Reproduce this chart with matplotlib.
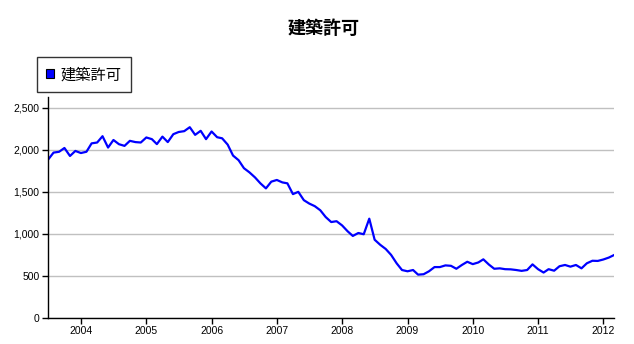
import matplotlib.pyplot as plt
import matplotlib.patches as mpatches
from matplotlib.ticker import FuncFormatter
import numpy as np
import pandas as pd

plt.rcParams['font.family'] = ['Liberation Sans', 'Noto Sans CJK JP', 'DejaVu Sans']

# 月次データ 2003-07 .. 2012-03
months = pd.date_range("2003-07-01", "2012-03-01", freq="MS")
values = [
    1880, 1965, 1975, 2020, 1925, 1985,            # 2003 Jul-Dec
    1960, 1975, 2075, 2085, 2160, 2025,            # 2004 Jan-Jun
    2115, 2065, 2045, 2105, 2090, 2085,            # 2004 Jul-Dec
    2145, 2125, 2066, 2155, 2090, 2184,            # 2005 Jan-Jun
    2210, 2220, 2267, 2176, 2224, 2125,            # 2005 Jul-Dec
    2216, 2148, 2135, 2060, 1930, 1875,            # 2006 Jan-Jun
    1780, 1730, 1670, 1600, 1540, 1620,            # 2006 Jul-Dec
    1640, 1611, 1600, 1472, 1499, 1400,            # 2007 Jan-Jun
    1360, 1329, 1280, 1200, 1140, 1150,            # 2007 Jul-Dec
    1100, 1030, 975, 1010, 995, 1180,              # 2008 Jan-Jun
    930, 870, 820, 750, 650, 570,                  # 2008 Jul-Dec
    555, 570, 515, 520, 555, 605,                  # 2009 Jan-Jun
    605, 625, 620, 585, 630, 668,                  # 2009 Jul-Dec
    640, 660, 697, 635, 585, 590,                  # 2010 Jan-Jun
    580, 578, 570, 560, 570, 637,                  # 2010 Jul-Dec
    580, 540, 580, 562, 615, 630,                  # 2011 Jan-Jun
    610, 630, 590, 650, 680, 678,                  # 2011 Jul-Dec
    695, 718, 748,                                 # 2012 Jan-Mar
]
years = list(range(2004, 2013))
series_name = "建築許可"

fig = plt.figure(figsize=(6.34, 3.44), dpi=100)
ax = fig.add_axes([0.0757, 0.0756, 0.8928, 0.641])

ax.plot(months, values, color="#0000ff", lw=1.6, label=series_name)

ax.set_xlim(months[0], months[-1])
ax.set_ylim(0, 2620)
ax.set_yticks([0, 500, 1000, 1500, 2000, 2500])
ax.yaxis.set_major_formatter(FuncFormatter(lambda v, p: f"{int(v):,}"))
ax.set_xticks([pd.Timestamp(f"{y}-01-01") for y in years])
ax.set_xticklabels([str(y) for y in years])

ax.grid(True, axis="y", color="#c0c0c0", lw=1)
ax.set_axisbelow(True)
for s in ["top", "right"]:
    ax.spines[s].set_visible(False)
for s in ["left", "bottom"]:
    ax.spines[s].set_color("black")
    ax.spines[s].set_linewidth(1)
ax.tick_params(axis="both", labelsize=7.5, length=4, width=1, colors="black", pad=2)

# タイトル
fig.text(0.51, 0.918, series_name, ha="center", va="center", fontsize=13,
         fontweight="bold", family=['Noto Sans CJK JP', 'DejaVu Sans'])

# 凡例
handle = mpatches.Patch(facecolor="#0000ff", edgecolor="black", lw=0.8)
leg = fig.legend([handle], [series_name], loc="upper left",
                 bbox_to_anchor=(0.058, 0.834), borderaxespad=0,
                 frameon=True, fancybox=False,
                 handlelength=0.5, handleheight=0.5, handletextpad=0.45,
                 borderpad=0.6, prop={"family": ['Noto Sans CJK JP', 'DejaVu Sans'], "size": 11})
leg.get_frame().set_edgecolor("black")
leg.get_frame().set_linewidth(1)

fig.savefig("out.png", dpi=100)
